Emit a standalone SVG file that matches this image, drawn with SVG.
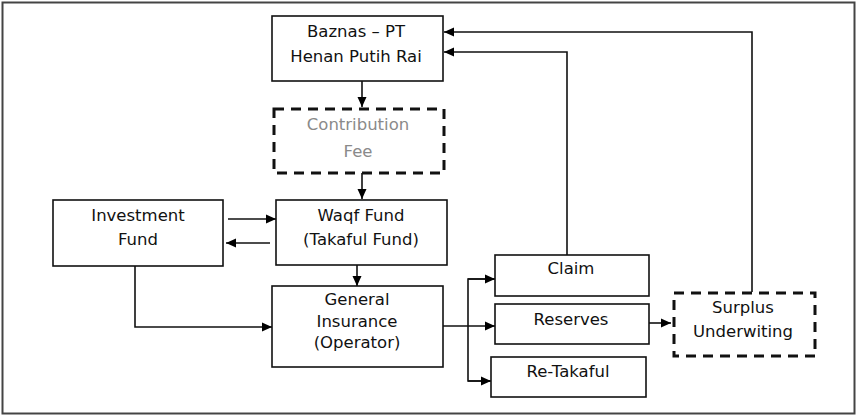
<svg xmlns="http://www.w3.org/2000/svg" width="857" height="416" viewBox="0 0 857 416">
<defs>
<marker id="ah" markerWidth="12" markerHeight="12" refX="10" refY="5.5" orient="auto" markerUnits="userSpaceOnUse">
<path d="M0,1 L10,5.5 L0,10 Z" fill="#000"/>
</marker>
<style>
.box{fill:#fff;stroke:#111;stroke-width:1.6}
.dash{fill:#fff;stroke:#111;stroke-width:3;stroke-dasharray:10 7}
.t{font-family:"DejaVu Sans",sans-serif;font-size:16.5px;fill:#111;text-anchor:middle}
.g{fill:#8a8a8a}
.c{fill:none;stroke:#111;stroke-width:1.6}
</style>
</defs>
<rect x="2.5" y="2.5" width="852" height="411" fill="#fff" stroke="#444" stroke-width="2"/>
<g id="connectors">
<line class="c" x1="362" y1="81" x2="362" y2="107" marker-end="url(#ah)"/>
<line class="c" x1="362" y1="173" x2="362" y2="199" marker-end="url(#ah)"/>
<line class="c" x1="228" y1="219" x2="276" y2="219" marker-end="url(#ah)"/>
<line class="c" x1="270" y1="243" x2="226" y2="243" marker-end="url(#ah)"/>
<line class="c" x1="357" y1="265" x2="357" y2="286" marker-end="url(#ah)"/>
<polyline class="c" points="135,266 135,327 272,327" marker-end="url(#ah)"/>
<line class="c" x1="443" y1="326" x2="495" y2="326" marker-end="url(#ah)"/>
<polyline class="c" points="494,279 468,279 468,381 490,381"/>
<line class="c" x1="468" y1="279" x2="495" y2="279" marker-end="url(#ah)"/>
<line class="c" x1="468" y1="381" x2="491" y2="381" marker-end="url(#ah)"/>
<line class="c" x1="649" y1="323" x2="671" y2="323" marker-end="url(#ah)"/>
<polyline class="c" points="567,255 567,52 444,52" marker-end="url(#ah)"/>
<polyline class="c" points="752,292 752,32 444,32" marker-end="url(#ah)"/>
</g>
<g id="baznas">
<rect class="box" x="272" y="16" width="171" height="65"/>
<text class="t" x="356" y="37">Baznas – PT</text>
<text class="t" x="356" y="62">Henan Putih Rai</text>
</g>
<g id="contribution">
<rect class="dash" x="274" y="109" width="170" height="64"/>
<text class="t g" x="358" y="130">Contribution</text>
<text class="t g" x="358" y="157">Fee</text>
</g>
<g id="investment">
<rect class="box" x="53" y="200" width="170" height="66"/>
<text class="t" x="138" y="221">Investment</text>
<text class="t" x="138" y="245">Fund</text>
</g>
<g id="waqf">
<rect class="box" x="276" y="200" width="171" height="65"/>
<text class="t" x="361" y="221">Waqf Fund</text>
<text class="t" x="361" y="245">(Takaful Fund)</text>
</g>
<g id="general">
<rect class="box" x="272" y="286" width="171" height="81"/>
<text class="t" x="357" y="305">General</text>
<text class="t" x="357" y="327">Insurance</text>
<text class="t" x="357" y="348">(Operator)</text>
</g>
<g id="claim">
<rect class="box" x="495" y="255" width="154" height="41"/>
<text class="t" x="571" y="274">Claim</text>
</g>
<g id="reserves">
<rect class="box" x="495" y="304" width="154" height="40"/>
<text class="t" x="571" y="325">Reserves</text>
</g>
<g id="retakaful">
<rect class="box" x="491" y="357" width="155" height="40"/>
<text class="t" x="568" y="377">Re-Takaful</text>
</g>
<g id="surplus">
<rect class="dash" x="674" y="293" width="141" height="63"/>
<text class="t" x="743" y="313">Surplus</text>
<text class="t" x="743" y="337">Underwiting</text>
</g>
</svg>
